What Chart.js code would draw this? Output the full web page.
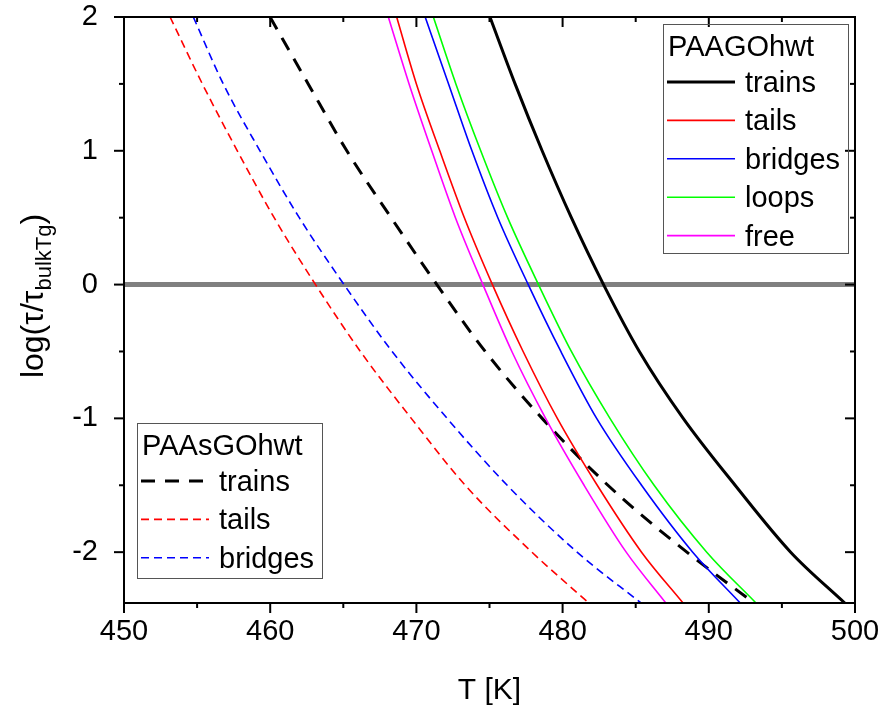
<!DOCTYPE html>
<html>
<head>
<meta charset="utf-8">
<script src="https://cdn.jsdelivr.net/npm/chart.js@4"></script>
<style>
    html, body { margin: 0; padding: 0; background: #fff; }
</style>
</head>
<body>
<canvas id="TauChart" width="878" height="713"></canvas>
<script>
const yLevels = [2, 1.5, 1, 0.5, 0, -0.5, -1, -1.5, -2, -2.38];

// PAAGOhwt (solid lines): T [K] at each level
const goTrains = [475.03, 476.75, 478.6, 480.6, 482.8, 485.25, 488.25, 491.8, 495.6, 499.3];
const goTails = [468.65, 470.0, 471.6, 473.28, 475.2, 477.3, 479.64, 482.37, 485.4, 488.24];
const goBridges = [470.6, 472.2, 473.8, 475.57, 477.65, 479.88, 482.33, 485.4, 488.9, 492.15];
const goLoops = [471.16, 472.7, 474.4, 476.24, 478.35, 480.6, 483.24, 486.26, 489.86, 493.23];
const goFree = [468.08, 469.5, 471.05, 472.67, 474.55, 476.53, 478.84, 481.47, 484.35, 487.06];

// PAAsGOhwt (dashed lines)
const sgoTrains = [459.99, 462.6, 465.24, 468.27, 471.4, 474.71, 478.6, 483.1, 488.5, 493.1];
const sgoTails = [453.15, 455.36, 457.75, 460.27, 463.1, 466.17, 469.65, 473.34, 477.9, 481.79];
const sgoBridges = [454.74, 456.79, 459.3, 461.99, 465.05, 468.34, 472.1, 476.21, 480.99, 485.36];

const xMajorTicks = [450, 460, 470, 480, 490, 500];
const xMinorTicks = [455, 465, 475, 485, 495];
const yMajorTicks = [-2, -1, 0, 1, 2];
const yMinorTicks = [-1.5, -0.5, 0.5, 1.5];

const FONT = "'Liberation Sans', Arial, sans-serif";

const toPoints = temps => temps.map((t, i) => ({ x: t, y: yLevels[i] }));

const makeSet = (group, label, temps, color, width, dash) => ({
    group: group,
    label: label,
    data: toPoints(temps),
    borderColor: color,
    borderWidth: width,
    borderDash: dash,
    fill: false,
    pointRadius: 0,
    cubicInterpolationMode: 'monotone'
});

const datasets = [
    makeSet('PAAGOhwt', 'trains', goTrains, '#000000', 3, []),
    makeSet('PAAGOhwt', 'tails', goTails, '#ff0000', 1.6, []),
    makeSet('PAAGOhwt', 'bridges', goBridges, '#0000ff', 1.6, []),
    makeSet('PAAGOhwt', 'loops', goLoops, '#00ff00', 1.6, []),
    makeSet('PAAGOhwt', 'free', goFree, '#ff00ff', 1.6, []),
    makeSet('PAAsGOhwt', 'trains', sgoTrains, '#000000', 3, [14, 10]),
    makeSet('PAAsGOhwt', 'tails', sgoTails, '#ff0000', 1.6, [8, 5]),
    makeSet('PAAsGOhwt', 'bridges', sgoBridges, '#0000ff', 1.6, [8, 5]),
    {
        label: 'zero',
        data: [{ x: 450, y: 0 }, { x: 500, y: 0 }],
        borderColor: '#808080',
        borderWidth: 5,
        pointRadius: 0,
        fill: false
    }
];

const strokeLine = (ctx, x1, y1, x2, y2) => {
    ctx.beginPath();
    ctx.moveTo(x1, y1);
    ctx.lineTo(x2, y2);
    ctx.stroke();
};

const drawLegend = (ctx, left, top, width, height, title, items) => {
    ctx.setLineDash([]);
    ctx.lineWidth = 1;
    ctx.strokeStyle = '#555';
    ctx.strokeRect(left + 0.5, top + 0.5, width, height);

    ctx.font = `29px ${FONT}`;
    ctx.fillStyle = '#000';
    ctx.textAlign = 'left';
    ctx.textBaseline = 'alphabetic';
    ctx.fillText(title, left + 5, top + 32);

    items.forEach((item, i) => {
        const cy = top + 58 + i * 38.4;
        ctx.setLineDash(item.borderDash);
        ctx.lineWidth = item.borderWidth;
        ctx.strokeStyle = item.borderColor;
        strokeLine(ctx, left + 4, cy, left + 72, cy);
        ctx.setLineDash([]);
        ctx.fillText(item.label, left + 82, cy + 10);
    });
};

const decorations = {
    id: 'decorations',
    afterDraw(chart) {
        const { ctx, chartArea: area, scales: { x, y } } = chart;
        ctx.save();

        // frame
        ctx.strokeStyle = '#000';
        ctx.lineWidth = 2;
        ctx.setLineDash([]);
        ctx.strokeRect(area.left, area.top, area.right - area.left, area.bottom - area.top);

        // ticks: out on bottom/left, in on top/right
        const xTick = (v, len) => {
            const px = x.getPixelForValue(v);
            strokeLine(ctx, px, area.bottom, px, area.bottom + len);
            strokeLine(ctx, px, area.top, px, area.top + len);
        };
        const yTick = (v, len) => {
            const py = y.getPixelForValue(v);
            strokeLine(ctx, area.left - len, py, area.left, py);
            strokeLine(ctx, area.right - len, py, area.right, py);
        };
        xMajorTicks.forEach(v => xTick(v, 10));
        xMinorTicks.forEach(v => xTick(v, 5));
        yMajorTicks.forEach(v => yTick(v, 10));
        yMinorTicks.forEach(v => yTick(v, 5));

        // axis titles
        ctx.fillStyle = '#000';
        ctx.font = `30px ${FONT}`;
        ctx.textAlign = 'center';
        ctx.textBaseline = 'alphabetic';
        ctx.fillText('T [K]', (area.left + area.right) / 2, 699);

        const main = 'log(\u03c4/\u03c4';
        const sub = 'bulkTg';
        ctx.font = `32px ${FONT}`;
        const w1 = ctx.measureText(main).width;
        const w3 = ctx.measureText(')').width;
        ctx.font = `22px ${FONT}`;
        const w2 = ctx.measureText(sub).width;
        ctx.translate(43, 296);
        ctx.rotate(-Math.PI / 2);
        ctx.textAlign = 'left';
        const start = -(w1 + w2 + w3) / 2;
        ctx.font = `32px ${FONT}`;
        ctx.fillText(main, start, 0);
        ctx.font = `22px ${FONT}`;
        ctx.fillText(sub, start + w1, 8);
        ctx.font = `32px ${FONT}`;
        ctx.fillText(')', start + w1 + w2, 0);
        ctx.setTransform(1, 0, 0, 1, 0, 0);

        // legends
        const sets = chart.data.datasets;
        drawLegend(ctx, area.right - 192, area.top + 7, 185, 229, 'PAAGOhwt',
            sets.filter(d => d.group === 'PAAGOhwt'));
        drawLegend(ctx, area.left + 13, area.bottom - 180, 185, 155, 'PAAsGOhwt',
            sets.filter(d => d.group === 'PAAsGOhwt'));

        ctx.restore();
    }
};

new Chart(document.getElementById('TauChart').getContext('2d'), {
    type: 'line',
    data: { datasets: datasets },
    options: {
        responsive: false,
        animation: false,
        layout: { padding: { top: 17, right: 23, left: 0, bottom: 0 } },
        plugins: {
            legend: { display: false },
            tooltip: { enabled: false }
        },
        scales: {
            x: {
                type: 'linear',
                min: 450,
                max: 500,
                afterFit: scale => {
                    scale.height = 110;
                    scale.paddingLeft = 0;
                    scale.paddingRight = 0;
                },
                afterBuildTicks: scale => { scale.ticks = xMajorTicks.map(v => ({ value: v })); },
                grid: { display: false, drawTicks: false },
                border: { display: false },
                ticks: {
                    color: '#000',
                    padding: 12,
                    maxRotation: 0,
                    font: { family: FONT, size: 29 }
                }
            },
            y: {
                type: 'linear',
                min: -2.38,
                max: 2,
                afterFit: scale => {
                    scale.width = 124;
                    scale.paddingTop = 0;
                    scale.paddingBottom = 0;
                },
                afterBuildTicks: scale => { scale.ticks = yMajorTicks.map(v => ({ value: v })); },
                grid: { display: false, drawTicks: false },
                border: { display: false },
                ticks: {
                    color: '#000',
                    padding: 26,
                    font: { family: FONT, size: 29 }
                }
            }
        }
    },
    plugins: [decorations]
});
</script>
</body>
</html>
